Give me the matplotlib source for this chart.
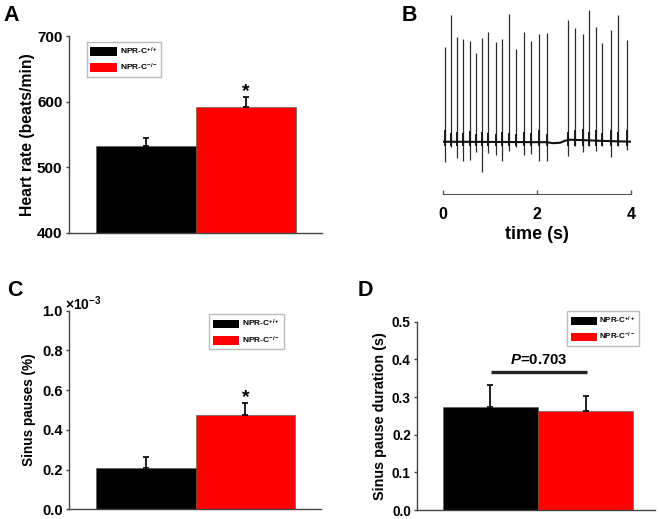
import numpy as np
import matplotlib
matplotlib.use("Agg")
import matplotlib.pyplot as plt
from matplotlib.patches import Patch

plt.rcParams['font.family'] = ['Liberation Sans', 'DejaVu Sans']
plt.rcParams['font.weight'] = 'bold'
plt.rcParams['axes.labelweight'] = 'bold'
plt.rcParams['mathtext.fontset'] = 'custom'
plt.rcParams['mathtext.rm'] = 'Liberation Sans:bold'
plt.rcParams['mathtext.it'] = 'Liberation Sans:bold:italic'
plt.rcParams['mathtext.bf'] = 'Liberation Sans:bold'
plt.rcParams['mathtext.default'] = 'regular'

W, H = 660.0, 519.0

# ---- data ----
groups = ["NPR-C$^{+/+}$", "NPR-C$^{-/-}$"]
colors = ["#000000", "#ff0000"]

hr_mean = [533, 592]          # beats/min
hr_sem = [12, 15]
pause_mean = [0.21, 0.476]    # % (x10^-3)
pause_sem = [0.055, 0.058]
dur_mean = [0.274, 0.263]     # s
dur_sem = [0.058, 0.041]
p_text = r"$\mathit{P}$=0.703"

# ECG trace, panel B (s, arbitrary units)
beat_t = [0.042, 0.170, 0.304, 0.438, 0.574, 0.701, 0.828, 0.969, 1.126, 1.260,
          1.408, 1.564, 1.721, 1.869, 2.039, 2.216, 2.662, 2.817, 2.974, 3.108,
          3.250, 3.390, 3.575, 3.730, 3.921]
r_amp = [0.95, 1.27, 1.05, 1.03, 1.01, 0.89, 1.04, 1.10, 1.00, 1.03,
         1.28, 0.93, 1.10, 1.01, 1.08, 1.09, 1.22, 1.14, 1.08, 1.32,
         1.15, 0.99, 1.12, 1.27, 1.02]
s_amp = [0.20, 0.05, 0.16, 0.19, 0.18, 0.10, 0.30, 0.11, 0.13, 0.19,
         0.09, 0.05, 0.13, 0.12, 0.19, 0.19, 0.14, 0.04, 0.10, 0.04,
         0.09, 0.04, 0.15, 0.04, 0.08]
qrs_top = [0.12, 0.09, 0.10, 0.09, 0.11, 0.08, 0.10, 0.09, 0.08, 0.10,
           0.09, 0.08, 0.10, 0.09, 0.12, 0.08, 0.10, 0.12, 0.13, 0.10,
           0.12, 0.09, 0.12, 0.10, 0.12]
base_t = [0.0, 2.20, 2.35, 2.50, 2.60, 2.70, 3.00, 3.40, 4.0]
base_v = [0.0, -0.005, -0.015, -0.01, 0.01, 0.02, 0.015, 0.008, 0.0]

fig = plt.figure(figsize=(6.6, 5.19), dpi=100)


def box(l, t, r, b):
    # pixel box -> figure fraction rect
    return [l / W, 1 - b / H, (r - l) / W, (b - t) / H]


def bar_panel(ax, means, sems, ylim, yticks, ylabel, lab_size, tick_size, xlim):
    x = np.arange(len(means))
    ax.bar(x, means, width=1.0, color=colors, edgecolor="#555555", linewidth=0.4, zorder=2)
    ax.errorbar(x, means, yerr=[[0] * len(sems), sems], fmt="none", ecolor="#111111",
                elinewidth=1.3, capsize=2, capthick=1.3, zorder=3)
    ax.set_xlim(xlim)
    ax.set_ylim(ylim)
    ax.set_yticks(yticks)
    ax.set_xticks([])
    for s in ["top", "right"]:
        ax.spines[s].set_visible(False)
    for s in ["left", "bottom"]:
        ax.spines[s].set_color("#444444")
        ax.spines[s].set_linewidth(1.0)
    ax.tick_params(axis="y", length=2.2, width=1.0, pad=2.5, labelsize=tick_size, color="#444444")
    ax.set_ylabel(ylabel, fontsize=lab_size)


def legend_at(l, t, fs):
    handles = [Patch(facecolor=c, edgecolor="none") for c in colors]
    fig.legend(handles, groups, loc="upper left", bbox_to_anchor=(l / W, 1 - t / H),
               fontsize=fs, frameon=True, fancybox=False, framealpha=1, edgecolor="#bbbbbb",
               handlelength=3.2, handleheight=1.2, handletextpad=0.3, borderpad=0.45,
               labelspacing=0.6, borderaxespad=0)


# ---- A ----
axA = fig.add_axes(box(69, 36, 322, 233))
bar_panel(axA, hr_mean, hr_sem, (400, 700), [400, 500, 600, 700],
          "Heart rate (beats/min)", 11.3, 11, (-0.77, 1.76))
axA.yaxis.set_label_coords(-0.134, 0.5)
axA.text(1, hr_mean[1] + hr_sem[1] - 4, "*", ha="center", va="bottom", fontsize=14)
legend_at(86.7, 41.7, 6)

# ---- B ----
axB = fig.add_axes(box(442.7, 8, 631, 194))
axB.plot(base_t, base_v, color="#111111", linewidth=1.5, zorder=3)
axB.vlines(beat_t, [-s for s in s_amp], r_amp, color="#2a2a2a", linewidth=0.9)
axB.vlines(beat_t, [-min(s, 0.04) for s in s_amp], qrs_top, color="#1a1a1a", linewidth=1.4)
axB.set_xlim(0, 4)
axB.set_ylim(-0.523, 1.337)
axB.set_xticks([0, 2, 4])
axB.set_yticks([])
for s in ["top", "right", "left"]:
    axB.spines[s].set_visible(False)
axB.spines["bottom"].set_color("#555555")
axB.tick_params(axis="x", direction="in", length=3, width=1.0, color="#555555",
                labelsize=11.5, pad=9)
axB.set_xlabel("time (s)", fontsize=13, labelpad=3)

# ---- C ----
axC = fig.add_axes(box(69.3, 310.7, 321, 509.3))
bar_panel(axC, pause_mean, pause_sem, (0, 1.0), [0, 0.2, 0.4, 0.6, 0.8, 1.0],
          "Sinus pauses (%)", 9.8, 10.5, (-0.77, 1.76))
axC.set_yticklabels(["%.1f" % v for v in [0, 0.2, 0.4, 0.6, 0.8, 1.0]])
axC.yaxis.set_label_coords(-0.134, 0.5)
axC.text(1, pause_mean[1] + pause_sem[1] - 0.012, "*", ha="center", va="bottom", fontsize=14)
fig.text(65 / W, 1 - 304 / H, "×10$^{-3}$", fontsize=10, va="center", ha="left")
legend_at(209, 314.3, 6)

# ---- D ----
axD = fig.add_axes(box(417.3, 321.7, 655, 510))
bar_panel(axD, dur_mean, dur_sem, (0, 0.5), [0, 0.1, 0.2, 0.3, 0.4, 0.5],
          "Sinus pause duration (s)", 10.4, 9.8, (-0.766, 1.727))
axD.set_yticklabels(["%.1f" % v for v in [0, 0.1, 0.2, 0.3, 0.4, 0.5]])
axD.yaxis.set_label_coords(-0.127, 0.5)
axD.plot([0.008, 1.01], [0.366, 0.366], color="#222222", linewidth=2.4, solid_capstyle="butt")
axD.text(0.51, 0.398, p_text, ha="center", va="center", fontsize=10.8)
legend_at(567.3, 311, 5.8)

# ---- panel letters ----
for lab, px, py in [("A", 3, 15.5), ("B", 402, 15.5), ("C", 7, 290), ("D", 358, 290)]:
    fig.text(px / W, 1 - py / H, lab, fontsize=15.5, fontweight="bold", ha="left", va="center")

fig.savefig("out.png", dpi=100)
